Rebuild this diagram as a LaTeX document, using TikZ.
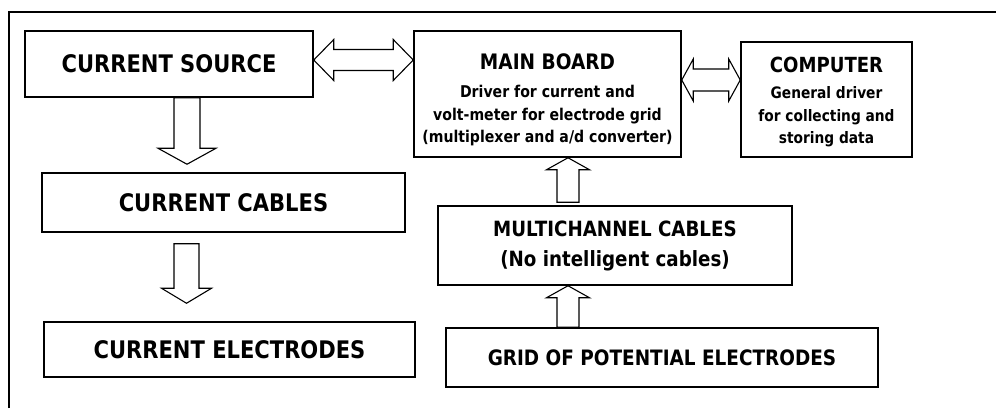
\documentclass[tikz,border=0pt]{standalone}
\usepackage{fontspec}
\setmainfont{DejaVu Sans}[FakeStretch=0.87]
\usetikzlibrary{calc}

% font sizes for the box texts
\newcommand{\bigbox}{\fontsize{24.2}{27}\selectfont}
\newcommand{\midbox}{\fontsize{21.2}{25}\selectfont}

\tikzset{
  block/.style={draw, line width=1.5pt, inner sep=0pt, align=center, font=\bfseries},
  % hollow block arrow: shaft half width, head half width, head length
  fat/.style n args={3}{line width=1.1pt, line join=miter, to path={
    let \p1=(\tikztostart), \p2=(\tikztotarget),
        \n1={atan2(\y2-\y1,\x2-\x1)}, \n2={veclen(\x2-\x1,\y2-\y1)} in
    ([shift={(\p1)},rotate=\n1]0pt,-#1pt)
    -- ([shift={(\p1)},rotate=\n1]{\n2-#3pt},-#1pt)
    -- ([shift={(\p1)},rotate=\n1]{\n2-#3pt},-#2pt)
    -- ([shift={(\p1)},rotate=\n1]\n2,0pt)
    -- ([shift={(\p1)},rotate=\n1]{\n2-#3pt},#2pt)
    -- ([shift={(\p1)},rotate=\n1]{\n2-#3pt},#1pt)
    -- ([shift={(\p1)},rotate=\n1]0pt,#1pt) -- cycle}},
  % same, with a head at both ends
  dbl/.style n args={3}{line width=1.1pt, line join=miter, to path={
    let \p1=(\tikztostart), \p2=(\tikztotarget),
        \n1={atan2(\y2-\y1,\x2-\x1)}, \n2={veclen(\x2-\x1,\y2-\y1)} in
    ([shift={(\p1)},rotate=\n1]0pt,0pt)
    -- ([shift={(\p1)},rotate=\n1]#3pt,#2pt)
    -- ([shift={(\p1)},rotate=\n1]#3pt,#1pt)
    -- ([shift={(\p1)},rotate=\n1]{\n2-#3pt},#1pt)
    -- ([shift={(\p1)},rotate=\n1]{\n2-#3pt},#2pt)
    -- ([shift={(\p1)},rotate=\n1]\n2,0pt)
    -- ([shift={(\p1)},rotate=\n1]{\n2-#3pt},-#2pt)
    -- ([shift={(\p1)},rotate=\n1]{\n2-#3pt},-#1pt)
    -- ([shift={(\p1)},rotate=\n1]#3pt,-#1pt)
    -- ([shift={(\p1)},rotate=\n1]#3pt,-#2pt) -- cycle}},
}

\begin{document}
\begin{tikzpicture}[x=1pt, y=-1pt]
  \useasboundingbox (0,0) rectangle (996,408);
  \draw[line width=1.5pt] (9,408) -- (9,12) -- (996,12);

  % left column
  \node[block, minimum width=288pt, minimum height=66pt] (cs) at (169,64)
    {\bigbox CURRENT SOURCE};
  \node[block, minimum width=363pt, minimum height=59pt] (cc) at (223.5,202.5)
    {\bigbox CURRENT CABLES};
  \node[block, minimum width=371pt, minimum height=55pt] (ce) at (229.5,349.5)
    {\bigbox CURRENT ELECTRODES};

  % measuring side
  \node[block, minimum width=267pt, minimum height=126pt,
        font=\bfseries\fontsize{16.2}{22.5}\selectfont] (mb) at (547.5,94)
    {\mbox{}\\[5pt]
     {\fontsize{21.3}{22.5}\selectfont MAIN BOARD}\\[6pt]
     Driver for current and\\
     volt-meter for electrode grid\\
     (multiplexer and a/d converter)};
  \node[block, minimum width=171pt, minimum height=115pt,
        font=\bfseries\fontsize{15.8}{22.5}\selectfont] (comp) at (826.5,99.5)
    {\mbox{}\\[-2pt]
     {\fontsize{20.8}{22.5}\selectfont COMPUTER}\\[4pt]
     General driver\\
     for collecting and\\
     storing data};
  \node[block, minimum width=354pt, minimum height=79pt,
        font=\bfseries\fontsize{21}{30}\selectfont] (mc) at (615,245.5)
    {MULTICHANNEL CABLES\\(No intelligent cables)};
  \node[block, minimum width=432pt, minimum height=59pt] (grid) at (662,357.5)
    {\midbox GRID OF POTENTIAL ELECTRODES};

  % block arrows
  \draw[fat={13}{29}{16}] ([xshift=18pt]cs.south) to ([xshift=-36.5pt,yshift=8pt]cc.north);
  \draw[fat={12.5}{25}{15}] ([xshift=-37pt,yshift=-11pt]cc.south) to ([xshift=-43pt,yshift=18pt]ce.north);
  \draw[fat={11}{21.5}{12}] ([xshift=-94pt]grid.north) to ([xshift=-47pt]mc.south);
  \draw[fat={11}{21.5}{12}] ([xshift=-47pt,yshift=3pt]mc.north) to ([xshift=20.5pt]mb.south);
  \draw[dbl={10.5}{20.5}{20}] ([yshift=4pt]cs.east) to ([yshift=34pt]mb.west);
  \draw[dbl={11}{21}{11.5}] ([yshift=14pt]mb.east) to ([yshift=19.5pt]comp.west);
\end{tikzpicture}
\end{document}
